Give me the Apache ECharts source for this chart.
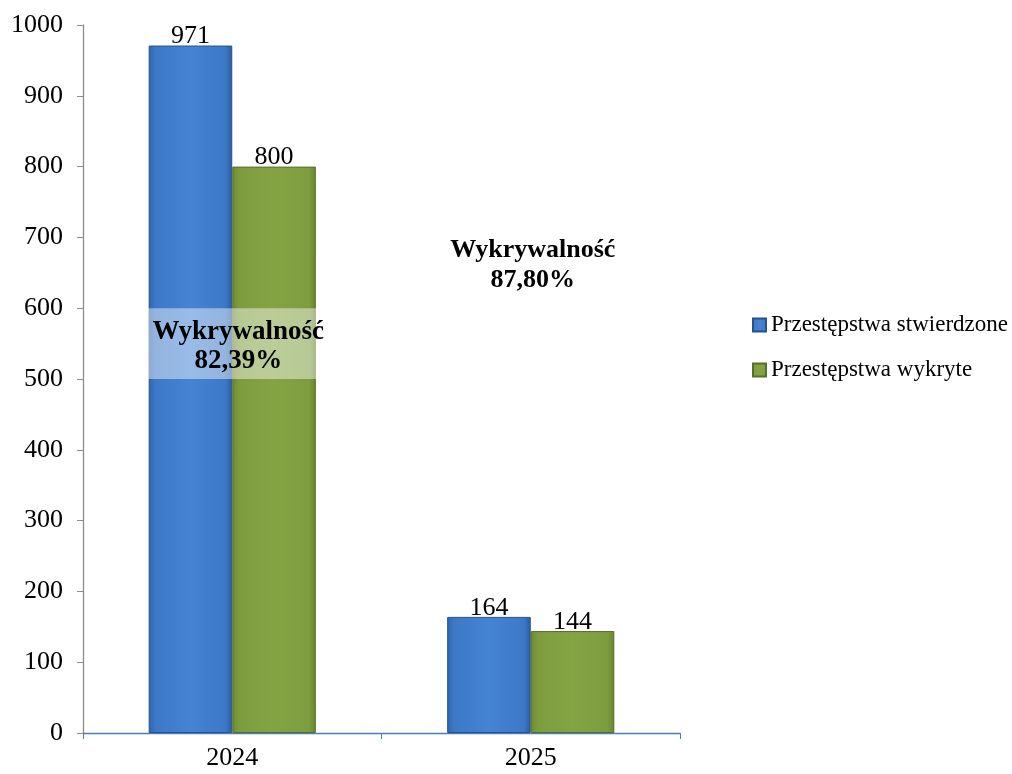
<!DOCTYPE html>
<html><head><meta charset="utf-8">
<script src="https://cdn.jsdelivr.net/npm/echarts@6/dist/echarts.min.js"></script>
<style>html,body{margin:0;padding:0;background:#fff}#c{width:1012px;height:774px}</style>
</head><body><div id="c"></div>
<script>
const categories = ['2024', '2025'];
const stwierdzone = [971, 164];
const wykryte = [800, 144];
const rates = ['82,39%', '87,80%'];
const seriesNames = ['Przestępstwa stwierdzone', 'Przestępstwa wykryte'];

const FONT = '"Liberation Serif","Times New Roman",serif';
const blue = new echarts.graphic.LinearGradient(0,0,1,0,[
  {offset:0,color:'#2f64ad'},{offset:0.08,color:'#3c78c6'},{offset:0.5,color:'#4584d4'},{offset:0.92,color:'#3c78c6'},{offset:1,color:'#2c5c9e'}]);
const green = new echarts.graphic.LinearGradient(0,0,1,0,[
  {offset:0,color:'#6a8a30'},{offset:0.08,color:'#7c9c3e'},{offset:0.5,color:'#84a444'},{offset:0.92,color:'#7c9c3e'},{offset:1,color:'#66852e'}]);

const chart = echarts.init(document.getElementById('c'));
const labelCfg = {show:true, position:'top', distance:-4, color:'#000', fontFamily:FONT, fontSize:26};
chart.setOption({
  animation:false,
  grid:{left:83, right:332, top:25, bottom:41},
  legend:{
    orient:'vertical', left:747, top:308, itemWidth:13, itemHeight:13, itemGap:21, icon:'rect',
    textStyle:{fontFamily:FONT, fontSize:23, color:'#000', lineHeight:24},
    data:seriesNames
  },
  xAxis:{
    type:'category', data:categories,
    axisLine:{lineStyle:{color:'#4a7ebb', width:1.3}},
    axisTick:{show:true, alignWithLabel:false, length:6, inside:false, lineStyle:{color:'#4a7ebb'}},
    axisLabel:{fontFamily:FONT, fontSize:26, color:'#000', margin:12}
  },
  yAxis:{
    type:'value', min:0, max:1000, interval:100,
    axisLine:{show:true, lineStyle:{color:'#8c8c8c', width:1.3}},
    axisTick:{show:true, length:6, lineStyle:{color:'#8c8c8c'}},
    splitLine:{show:false},
    axisLabel:{fontFamily:FONT, fontSize:26, color:'#000', margin:20, formatter:v => String(v)}
  },
  series:[
    {name:seriesNames[0], type:'bar', data:stwierdzone, barGap:'0%', barCategoryGap:'44%',
     itemStyle:{color:blue, borderColor:'#2a528a', borderWidth:1}, label:labelCfg},
    {name:seriesNames[1], type:'bar', data:wykryte, barGap:'0%', barCategoryGap:'44%',
     itemStyle:{color:green, borderColor:'#56702a', borderWidth:1}, label:labelCfg}
  ]
});

// annotations placed via axis conversion
const p0 = chart.convertToPixel({xAxisIndex:0, yAxisIndex:0}, [0, 600]);
const p0b = chart.convertToPixel({xAxisIndex:0, yAxisIndex:0}, [0, 500]);
const p1 = chart.convertToPixel({xAxisIndex:0, yAxisIndex:0}, [1, 660]);
const bw = 84;
chart.setOption({
  graphic:[
    {type:'rect', shape:{x:p0[0]-bw, y:p0[1], width:bw*2, height:p0b[1]-p0[1]},
     style:{fill:'rgba(255,255,255,0.45)'}, z:100},
    {type:'text', x:p0[0]+6, y:(p0[1]+p0b[1])/2+3, z:101,
     style:{text:'Wykrywalność\n' + rates[0], fontFamily:FONT, fontSize:27, fontWeight:'bold', fill:'#000',
       align:'center', verticalAlign:'middle', lineHeight:29}},
    {type:'text', x:p1[0]+2, y:p1[1], z:101,
     style:{text:'Wykrywalność\n' + rates[1], fontFamily:FONT, fontSize:26, fontWeight:'bold', fill:'#000',
       align:'center', verticalAlign:'middle', lineHeight:30}}
  ]
});
</script></body></html>
